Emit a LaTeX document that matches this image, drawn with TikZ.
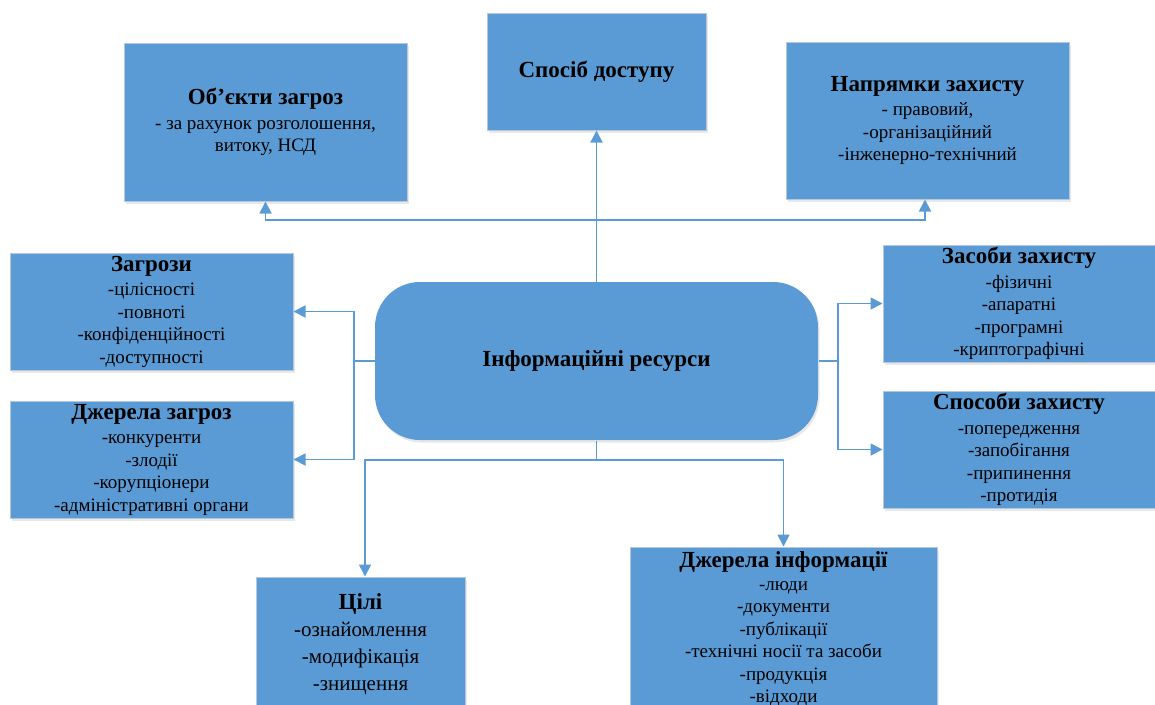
\documentclass[tikz,border=0pt]{standalone}
\usepackage{fontspec}
\setmainfont{Liberation Serif}
\usetikzlibrary{arrows.meta,shadows}
\definecolor{boxfill}{HTML}{5B9BD5}
\definecolor{boxline}{HTML}{B4C7DC}
\definecolor{conn}{HTML}{5B9BD5}
\newcommand{\ttlx}[1]{{\fontsize{23}{26}\selectfont\bfseries #1}}
\begin{document}
\begin{tikzpicture}[x=1pt,y=-1pt,
  box/.style={draw=boxline, line width=1pt, fill=boxfill, align=center, inner sep=0pt,
    font=\fontsize{19}{22.5}\selectfont,
    drop shadow={opacity=0.18, shadow xshift=1.5pt, shadow yshift=-2.5pt}},
  arr/.style={draw=conn, line width=1.8pt, -{Triangle[width=12pt,length=12pt]}},
  ln/.style={draw=conn, line width=1.8pt}]
\useasboundingbox (0,0) rectangle (1155,704);
\clip (0,0) rectangle (1155,704);
% boxes
\node[box, minimum width=283pt, minimum height=158pt] (obj) at (265.5,122)
  {\ttlx{Об’єкти загроз}\\[2pt]
   - за рахунок розголошення,\\
   витоку, НСД};
\node[box, minimum width=219pt, minimum height=117pt] (spos) at (596.5,71.5)
  {\ttlx{Спосіб доступу}};
\node[box, minimum width=283pt, minimum height=157pt] (napr) at (927.5,120.5)
  {\ttlx{Напрямки захисту}\\[2pt]
   - правовий,\\
   -організаційний\\
   -інженерно-технічний};
\node[box, minimum width=283pt, minimum height=117pt] (zagr) at (151.5,311.5)
  {\ttlx{Загрози}\\[2pt]
   -цілісності\\
   -повноті\\
   -конфіденційності\\
   -доступності};
\node[box, minimum width=283pt, minimum height=117pt] (dzhz) at (151.5,459.5)
  {\ttlx{Джерела загроз}\\[2pt]
   -конкуренти\\
   -злодії\\
   -корупціонери\\
   -адміністративні органи};
\node[box, draw=none, rounded corners=45pt, minimum width=443pt, minimum height=158pt] (res) at (596.5,361)
  {\ttlx{Інформаційні ресурси}};
\node[box, minimum width=272pt, minimum height=117pt] (zas) at (1019,303.5)
  {\ttlx{Засоби захисту}\\[2pt]
   -фізичні\\
   -апаратні\\
   -програмні\\
   -криптографічні};
\node[box, minimum width=272pt, minimum height=117pt] (spz) at (1019,449.5)
  {\ttlx{Способи захисту}\\[2pt]
   -попередження\\
   -запобігання\\
   -припинення\\
   -протидія};
\node[box, minimum width=209pt, minimum height=134pt, font=\fontsize{21}{27}\selectfont] (tsili) at (360.5,644)
  {\ttlx{Цілі}\\
   -ознайомлення\\
   -модифікація\\
   -знищення};
\node[box, minimum width=307pt, minimum height=164pt] (dzhi) at (783.5,629)
  {\ttlx{Джерела інформації}\\
   -люди\\
   -документи\\
   -публікації\\
   -технічні носії та засоби\\
   -продукція\\
   -відходи};
% junctions
\coordinate (jt) at (596.5,220);
\coordinate (jl) at (354,361);
\coordinate (jr) at (838,361);
\coordinate (jb) at (596.5,460);
% connectors
\draw[arr] (res.north) -- (spos.south);
\draw[arr] (jt) -| (obj.south);
\draw[arr] (jt) -| ([xshift=-2.5pt]napr.south);
\draw[ln] (res.west) -- (jl);
\draw[arr] (jl) |- (zagr.east);
\draw[arr] (jl) |- (dzhz.east);
\draw[ln] (res.east) -- (jr);
\draw[arr] (jr) |- (zas.west);
\draw[arr] (jr) |- (spz.west);
\draw[ln] (res.south) -- (jb);
\draw[arr] (jb) -| ([xshift=4.5pt]tsili.north);
\draw[arr] (jb) -| (dzhi.north);
\end{tikzpicture}
\end{document}
